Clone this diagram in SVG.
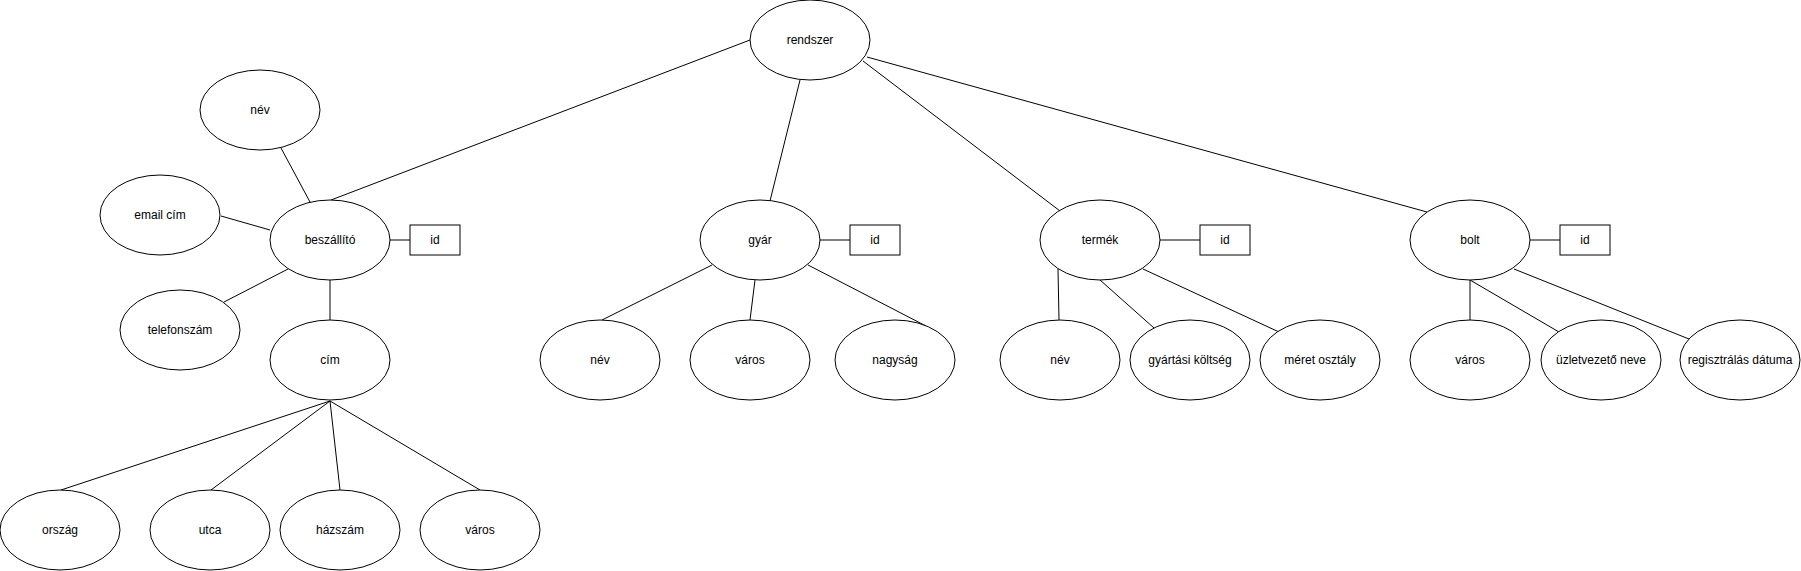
<svg xmlns="http://www.w3.org/2000/svg" width="1801" height="571" viewBox="0 0 1801 571">
<style>
ellipse, rect { fill: #ffffff; stroke: #000000; stroke-width: 1; }
.c line { stroke: #000000; stroke-width: 1; }
text { font-family: "Liberation Sans", Arial, sans-serif; font-size: 12px; fill: #000000; text-anchor: middle; dominant-baseline: central; }
</style>
<rect x="0" y="0" width="1801" height="571" style="fill:#ffffff;stroke:none"/>
<g class="c" id="connectors">
<line x1="750" y1="40" x2="331" y2="200"/>
<line x1="800" y1="80" x2="770" y2="201"/>
<line x1="863" y1="61" x2="1060" y2="211"/>
<line x1="867" y1="57" x2="1427" y2="212"/>
<line x1="281" y1="148" x2="310" y2="202"/>
<line x1="221" y1="216" x2="270" y2="230"/>
<line x1="288" y1="269" x2="224" y2="302"/>
<line x1="330" y1="280" x2="330" y2="320"/>
<line x1="390" y1="240" x2="410" y2="240"/>
<line x1="330" y1="401" x2="61" y2="490"/>
<line x1="330" y1="401" x2="211" y2="490"/>
<line x1="330" y1="401" x2="340" y2="490"/>
<line x1="330" y1="401" x2="480" y2="490"/>
<line x1="820" y1="240" x2="850" y2="240"/>
<line x1="712" y1="265" x2="602" y2="320"/>
<line x1="755" y1="280" x2="750" y2="320"/>
<line x1="808" y1="265" x2="926" y2="326"/>
<line x1="1160" y1="240" x2="1200" y2="240"/>
<line x1="1058" y1="269" x2="1059" y2="320"/>
<line x1="1100" y1="280" x2="1154" y2="328"/>
<line x1="1143" y1="269" x2="1279" y2="332"/>
<line x1="1530" y1="240" x2="1560" y2="240"/>
<line x1="1470" y1="280" x2="1470" y2="320"/>
<line x1="1470" y1="280" x2="1559" y2="332"/>
<line x1="1514" y1="269" x2="1689" y2="339"/>
</g>
<g id="rendszer"><ellipse cx="810" cy="40" rx="60" ry="40"/><text x="810" y="40">rendszer</text></g>
<g id="beszallito"><ellipse cx="330" cy="240" rx="60" ry="40"/><text x="330" y="240">beszállító</text></g>
<g id="beszallito-id"><rect x="410" y="225" width="50" height="30"/><text x="435" y="240">id</text></g>
<g id="besz-nev"><ellipse cx="260" cy="110" rx="60" ry="40"/><text x="260" y="110">név</text></g>
<g id="besz-email"><ellipse cx="160" cy="215" rx="60" ry="40"/><text x="160" y="215">email cím</text></g>
<g id="besz-telefon"><ellipse cx="180" cy="330" rx="60" ry="40"/><text x="180" y="330">telefonszám</text></g>
<g id="besz-cim"><ellipse cx="330" cy="360" rx="60" ry="40"/><text x="330" y="360">cím</text></g>
<g id="cim-orszag"><ellipse cx="60" cy="530" rx="60" ry="40"/><text x="60" y="530">ország</text></g>
<g id="cim-utca"><ellipse cx="210" cy="530" rx="60" ry="40"/><text x="210" y="530">utca</text></g>
<g id="cim-hazszam"><ellipse cx="340" cy="530" rx="60" ry="40"/><text x="340" y="530">házszám</text></g>
<g id="cim-varos"><ellipse cx="480" cy="530" rx="60" ry="40"/><text x="480" y="530">város</text></g>
<g id="gyar"><ellipse cx="760" cy="240" rx="60" ry="40"/><text x="760" y="240">gyár</text></g>
<g id="gyar-id"><rect x="850" y="225" width="50" height="30"/><text x="875" y="240">id</text></g>
<g id="gyar-nev"><ellipse cx="600" cy="360" rx="60" ry="40"/><text x="600" y="360">név</text></g>
<g id="gyar-varos"><ellipse cx="750" cy="360" rx="60" ry="40"/><text x="750" y="360">város</text></g>
<g id="gyar-nagysag"><ellipse cx="895" cy="360" rx="60" ry="40"/><text x="895" y="360">nagyság</text></g>
<g id="termek"><ellipse cx="1100" cy="240" rx="60" ry="40"/><text x="1100" y="240">termék</text></g>
<g id="termek-id"><rect x="1200" y="225" width="50" height="30"/><text x="1225" y="240">id</text></g>
<g id="termek-nev"><ellipse cx="1060" cy="360" rx="60" ry="40"/><text x="1060" y="360">név</text></g>
<g id="termek-koltseg"><ellipse cx="1190" cy="360" rx="60" ry="40"/><text x="1190" y="360">gyártási költség</text></g>
<g id="termek-meret"><ellipse cx="1320" cy="360" rx="60" ry="40"/><text x="1320" y="360">méret osztály</text></g>
<g id="bolt"><ellipse cx="1470" cy="240" rx="60" ry="40"/><text x="1470" y="240">bolt</text></g>
<g id="bolt-id"><rect x="1560" y="225" width="50" height="30"/><text x="1585" y="240">id</text></g>
<g id="bolt-varos"><ellipse cx="1470" cy="360" rx="60" ry="40"/><text x="1470" y="360">város</text></g>
<g id="bolt-uzletvezeto"><ellipse cx="1601" cy="360" rx="60" ry="40"/><text x="1601" y="360">üzletvezető neve</text></g>
<g id="bolt-regisztralas"><ellipse cx="1740" cy="360" rx="60" ry="40"/><text x="1740" y="360">regisztrálás dátuma</text></g>
</svg>
